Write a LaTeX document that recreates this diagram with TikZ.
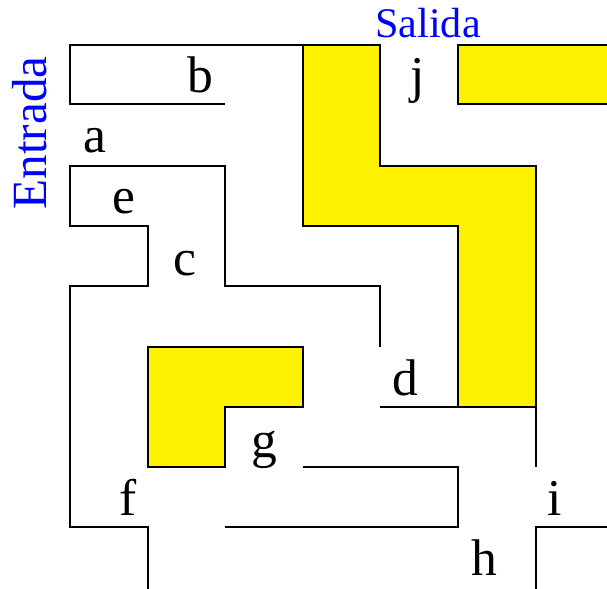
\documentclass[tikz,border=0pt]{standalone}
\usepackage{fontspec}
\setmainfont{Liberation Serif}
\newfontfamily\mazefont{Liberation Serif}

\begin{document}
\begin{tikzpicture}[x=0.03cm,y=-0.03cm,line width=1.4pt]
  \tikzset{wall/.style={draw=black},
    block/.style={draw=black,fill=yellow},
    room/.style={anchor=base,inner sep=0pt,font=\mazefont\fontsize{44}{44}\selectfont},
    door/.style={anchor=base,inner sep=0pt,text=blue,font=\mazefont\fontsize{36}{36}\selectfont}}
  \useasboundingbox (0,0) rectangle (607,589);
  % bloques
  \path[block] (303,45) -- (380,45) -- (380,166) -- (536,166) -- (536,407)
    -- (458,407) -- (458,226) -- (303,226) -- cycle;
  \path[block] (458,45) rectangle (610,104);
  \path[block] (148,347) -- (303,347) -- (303,407) -- (225,407) -- (225,467)
    -- (148,467) -- cycle;
  % paredes
  \draw[wall] (225,104) -- (70,104) -- (70,45) -- (303,45);
  \draw[wall] (380,347) -- (380,286) -- (225,286) -- (225,166) -- (70,166)
    -- (70,226) -- (148,226) -- (148,286) -- (70,286) -- (70,527) -- (148,527)
    -- (148,589);
  \draw[wall] (380,407) -- (458,407);
  \draw[wall] (536,407) -- (536,467);
  \draw[wall] (303,467) -- (458,467) -- (458,527) -- (225,527);
  \draw[wall] (607,527) -- (536,527) -- (536,589);
  % habitaciones
  \node[room] (a) at (95,152) {a};
  \node[room] (b) at (200,92) {b};
  \node[room] (c) at (185,275) {c};
  \node[room] (d) at (405,395) {d};
  \node[room] (e) at (124,213) {e};
  \node[room] (f) at (128,515) {f};
  \node[room] (g) at (264,457) {g};
  \node[room] (h) at (484,575) {h};
  \node[room] (i) at (555,515) {i};
  \node[room] (j) at (418,92) {j};
  \node[door] (salida) at (428,37) {Salida};
  \node[door,rotate=90,font=\mazefont\fontsize{42}{42}\selectfont] (entrada) at (47,133) {Entrada};
\end{tikzpicture}
\end{document}
